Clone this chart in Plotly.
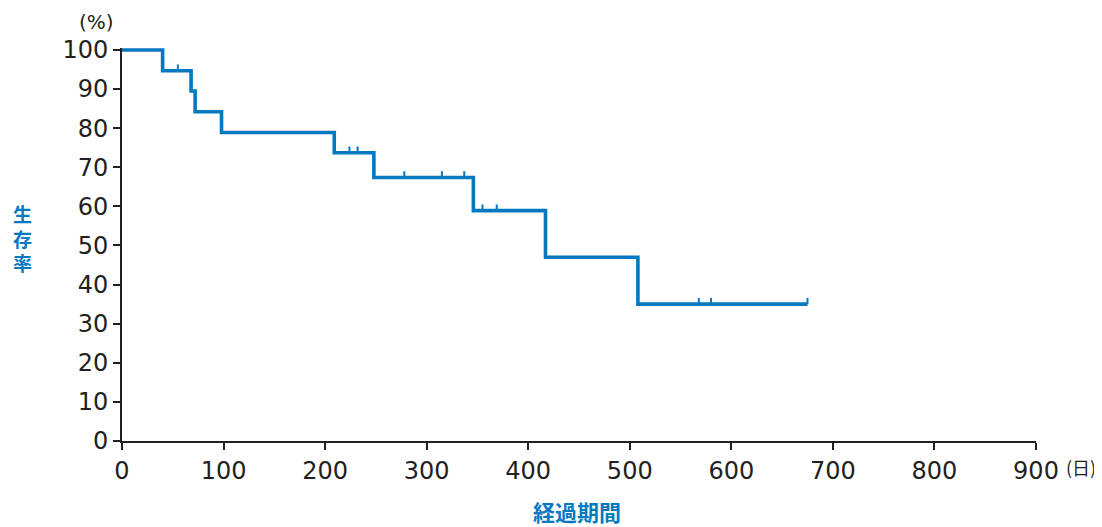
import plotly.graph_objects as go

# Kaplan-Meier step curve (days, survival %)
step_days = [0, 40, 68, 72, 98, 209, 248, 346, 417, 508, 675]
step_surv = [100, 94.7, 89.5, 84.2, 78.9, 73.7, 67.4, 58.9, 47.0, 35.0, 35.0]

# censored observations (days, survival %)
cens_days = [55, 224, 232, 278, 315, 337, 355, 369, 568, 580, 675]
cens_surv = [94.7, 73.7, 73.7, 67.4, 67.4, 67.4, 58.9, 58.9, 35.0, 35.0, 35.0]
cens_mark = [1.6] * len(cens_days)

x_ticks = [0, 100, 200, 300, 400, 500, 600, 700, 800, 900]
y_ticks = [0, 10, 20, 30, 40, 50, 60, 70, 80, 90, 100]

BLUE = "#0479c1"
DARK = "#231f20"
FONT = "DejaVu Sans, Liberation Sans, Arial, sans-serif"
CJK = "Noto Sans CJK JP"

fig = go.Figure()
fig.add_trace(go.Scatter(
    x=step_days, y=step_surv, mode="lines",
    line=dict(color=BLUE, width=3.6, shape="hv"),
    cliponaxis=False, hoverinfo="skip", showlegend=False,
))
fig.add_trace(go.Scatter(
    x=cens_days, y=cens_surv, mode="markers",
    marker=dict(size=1, color=BLUE, opacity=0),
    error_y=dict(type="data", symmetric=False, array=cens_mark,
                 arrayminus=[0] * len(cens_days), width=0, thickness=2, color=BLUE),
    cliponaxis=False, hoverinfo="skip", showlegend=False,
))

# page body has an 8px margin: figure is drawn 8px right/down
fig.update_layout(
    width=1094, height=519,
    margin=dict(l=114, r=66, t=40, b=86),
    paper_bgcolor="white", plot_bgcolor="white",
    font=dict(family=FONT, color=DARK, size=24),
    xaxis=dict(range=[0, 900], tickvals=x_ticks, ticktext=[str(v) for v in x_ticks],
               showgrid=False, zeroline=False, showline=True, linecolor=DARK, linewidth=2,
               ticks="outside", ticklen=7, tickwidth=2, tickcolor=DARK,
               tickfont=dict(size=24, color=DARK, family=FONT)),
    yaxis=dict(range=[0, 100.5], tickvals=y_ticks, ticktext=[str(v) for v in y_ticks],
               showgrid=False, zeroline=False, showline=True, linecolor=DARK, linewidth=2,
               ticks="outside", ticklen=7, tickwidth=2, tickcolor=DARK,
               tickfont=dict(size=24, color=DARK, family=FONT)),
)

anns = [
    dict(text="(%)", x=-0.0284, y=1.0662, size=20, color=DARK, fam=FONT),
    dict(text="(日)", x=1.0490, y=-0.0662, size=18, color=DARK, fam=CJK),
    dict(text="<b>経過期間</b>", x=0.4978, y=-0.1781, size=22, color=BLUE, fam=CJK),
    dict(text="<b>生<br>存<br>率</b>", x=-0.1094, y=0.5178, size=19, color=BLUE, fam=CJK),
]
for a in anns:
    fig.add_annotation(text=a["text"], x=a["x"], y=a["y"], xref="paper", yref="paper",
                       showarrow=False, xanchor="center", yanchor="middle",
                       font=dict(size=a["size"], color=a["color"], family=a["fam"]))

fig.write_html("out.html")
